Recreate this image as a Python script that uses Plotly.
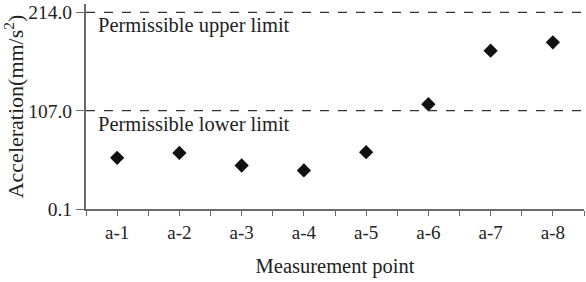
import plotly.graph_objects as go

categories = ["a-1", "a-2", "a-3", "a-4", "a-5", "a-6", "a-7", "a-8"]
acceleration = [55.7, 61.1, 47.4, 42.0, 61.9, 114.0, 172.3, 181.3]
upper_limit = 214.0
lower_limit = 107.0
y_tickvals = [0.1, 107.0, 214.0]
y_ticktext = ["0.1", "107.0", "214.0"]

xpos = list(range(1, len(categories) + 1))
font = "Liberation Serif, Times New Roman, serif"
txt = "#222222"
axc = "#6a6a6a"

fig = go.Figure()
fig.add_trace(go.Scatter(
    x=xpos, y=acceleration, mode="markers",
    marker=dict(symbol="diamond", size=11, color="#111111"),
    showlegend=False,
))

for val, label in [(upper_limit, "Permissible upper limit"), (lower_limit, "Permissible lower limit")]:
    fig.add_shape(type="line", xref="x", yref="y", x0=0.5, x1=8.5, y0=val, y1=val,
                  line=dict(color="#333333", width=1.2, dash="dash"))
    fig.add_annotation(x=0.5, y=val, xref="x", yref="y", text=label, showarrow=False,
                       xanchor="left", yanchor="top", xshift=10, yshift=0,
                       font=dict(family=font, size=20.5, color=txt))

fig.update_xaxes(
    range=[0.5, 8.5], tickvals=xpos, ticktext=categories,
    ticks="outside", ticklen=5, tickcolor=axc,
    showline=True, linecolor=axc, linewidth=2, showgrid=False, zeroline=False,
    minor=dict(tickvals=[i + 0.5 for i in range(0, 9)], ticks="outside", ticklen=5, tickcolor=axc),
    tickfont=dict(family=font, size=19, color=txt),
    title=dict(text="Measurement point", font=dict(family=font, size=20.5, color=txt), standoff=17),
)
fig.update_yaxes(
    range=[0.1, 223], tickvals=y_tickvals, ticktext=y_ticktext,
    ticks="outside", ticklen=8, tickcolor=axc,
    showline=True, linecolor=axc, linewidth=2, showgrid=False, zeroline=False,
    tickfont=dict(family=font, size=19.5, color=txt),
    title=dict(text="Acceleration(mm/s<sup>2</sup>)", font=dict(family=font, size=22, color=txt), standoff=2),
)
fig.update_layout(
    width=586, height=282, margin=dict(l=86, r=2, t=4, b=73),
    plot_bgcolor="white", paper_bgcolor="white",
)
fig.write_html("out.html")
